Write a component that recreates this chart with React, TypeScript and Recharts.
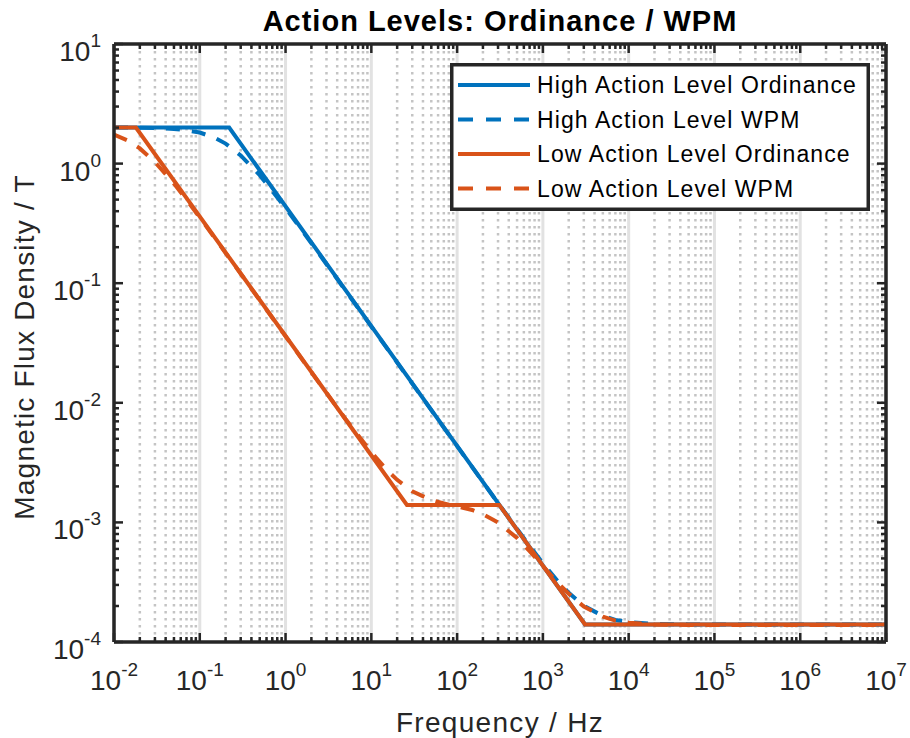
import React from "react";
import {
  LineChart,
  Line,
  XAxis,
  YAxis,
  CartesianGrid,
  Legend,
  Label,
  ReferenceLine,
} from "recharts";

// ordinance limits (piecewise, break points)
const highOrdFreq = [0.01, 0.22, 3100, 1e7];
const highOrdB = [2, 2, 1.4e-4, 1.4e-4];
const lowOrdFreq = [0.01, 0.018, 26, 310, 3100, 1e7];
const lowOrdB = [2, 2, 1.4e-3, 1.4e-3, 1.4e-4, 1.4e-4];

// weighted peak method curves
const wpmFreq = [
  0.01, 0.015, 0.02, 0.03, 0.05, 0.07, 0.1, 0.15, 0.2, 0.3, 0.5, 0.7, 1, 2, 5, 10, 15, 20, 30, 50,
  70, 100, 150, 200, 300, 500, 700, 1000, 1500, 2000, 3000, 5000, 7000, 1e4, 2e4, 5e4, 1e5, 1e7,
];
const highWpmB = [
  2.0, 2.0, 1.99, 1.98, 1.95, 1.9, 1.82, 1.64, 1.47, 1.17, 0.8, 0.59, 0.424, 0.216, 0.0867, 0.0434,
  0.0289, 0.0217, 0.01447, 0.00868, 0.0062, 0.00434, 0.0029, 0.00217, 0.00145, 0.00088, 0.000636,
  0.000456, 0.000321, 0.000258, 0.000201, 0.000165, 0.000153, 0.000147, 0.0001416, 0.0001403,
  0.00014, 0.00014,
];
const lowWpmB = [
  1.75, 1.54, 1.34, 1.03, 0.68, 0.5, 0.354, 0.238, 0.179, 0.12, 0.072, 0.0514, 0.036, 0.018,
  0.00733, 0.00386, 0.00277, 0.00227, 0.00182, 0.00154, 0.00144, 0.00136, 0.00127, 0.00117, 0.001,
  0.00074, 0.000575, 0.000431, 0.000311, 0.000253, 0.000198, 0.000163, 0.000151, 0.000145, 0.00014,
  0.000139, 0.0001385, 0.0001385,
];

const xTickValues = [1e-2, 1e-1, 1, 10, 100, 1e3, 1e4, 1e5, 1e6, 1e7];
const xTickExps = ["-2", "-1", "0", "1", "2", "3", "4", "5", "6", "7"];
const yTickValues = [1e-4, 1e-3, 1e-2, 1e-1, 1, 10];
const yTickExps = ["-4", "-3", "-2", "-1", "0", "1"];
const minorSteps = [2, 3, 4, 5, 6, 7, 8, 9];

const seriesNames = [
  "High Action Level Ordinance",
  "High Action Level WPM",
  "Low Action Level Ordinance",
  "Low Action Level WPM",
];

const BLUE = "#0072BD";
const ORANGE = "#D95319";
const AX = "#262626";
const SANS = '"Liberation Sans", Arial, Helvetica, sans-serif';
const DASH = "14 12";
const PLOT_W = 772;
const PLOT_H = 598;

const xMinor = xTickValues.slice(0, -1).flatMap((d) => minorSteps.map((s) => s * d));
const yMinor = yTickValues.slice(0, -1).flatMap((d) => minorSteps.map((s) => s * d));
const xAllTicks = [...xTickValues, ...xMinor].sort((a, b) => a - b);
const yAllTicks = [...yTickValues, ...yMinor].sort((a, b) => a - b);

const toRows = (fs: number[], bs: number[]) => fs.map((f, i) => ({ f, b: bs[i] }));

const highOrd = toRows(highOrdFreq, highOrdB);
const highWpm = toRows(wpmFreq, highWpmB);
const lowOrd = toRows(lowOrdFreq, lowOrdB);
const lowWpm = toRows(wpmFreq, lowWpmB);

const legendItems = [
  { name: seriesNames[0], color: BLUE, dash: undefined },
  { name: seriesNames[1], color: BLUE, dash: DASH },
  { name: seriesNames[2], color: ORANGE, dash: undefined },
  { name: seriesNames[3], color: ORANGE, dash: DASH },
];

const applyScale = (scale: any, v: number) =>
  typeof scale === "function" ? scale(v) : scale && scale.map ? scale.map(v) : 0;

function XTick(props: any) {
  const { x, y, payload } = props;
  const i = xTickValues.indexOf(payload.value);
  const len = i >= 0 ? 9 : 5;
  return (
    <g>
      <line x1={x} x2={x} y1={y} y2={y - len} stroke={AX} strokeWidth={2.5} />
      <line x1={x} x2={x} y1={y - PLOT_H} y2={y - PLOT_H + len} stroke={AX} strokeWidth={2.5} />
      {i >= 0 && (
        <text x={x} y={y + 48} textAnchor="middle" fill={AX} fontFamily={SANS} fontSize={28}>
          10
          <tspan dy={-14} fontSize={19}>
            {xTickExps[i]}
          </tspan>
        </text>
      )}
    </g>
  );
}

function YTick(props: any) {
  const { x, y, payload } = props;
  const i = yTickValues.indexOf(payload.value);
  const len = i >= 0 ? 9 : 5;
  return (
    <g>
      <line x1={x} x2={x + len} y1={y} y2={y} stroke={AX} strokeWidth={2.5} />
      <line x1={x + PLOT_W} x2={x + PLOT_W - len} y1={y} y2={y} stroke={AX} strokeWidth={2.5} />
      {i >= 0 && (
        <text x={x - 13} y={y + 17} textAnchor="end" fill={AX} fontFamily={SANS} fontSize={28}>
          10
          <tspan dy={-14} fontSize={19}>
            {yTickExps[i]}
          </tspan>
        </text>
      )}
    </g>
  );
}

function LegendBox() {
  return (
    <svg width={420} height={148} style={{ display: "block" }}>
      <rect x={1.75} y={1.75} width={416.5} height={144.5} fill="#fff" stroke={AX} strokeWidth={3.5} />
      {legendItems.map((it, i) => {
        const cy = 22 + i * 34.5;
        return (
          <g key={it.name}>
            <line
              x1={8}
              x2={80}
              y1={cy}
              y2={cy}
              stroke={it.color}
              strokeWidth={4}
              strokeDasharray={it.dash ? "15 13" : undefined}
            />
            <text x={87} y={cy + 8} fontFamily={SANS} fontSize={23} letterSpacing={1.1} fill="#000">
              {it.name}
            </text>
          </g>
        );
      })}
    </svg>
  );
}

export default function App() {
  const axisLine = { stroke: AX, strokeWidth: 3.5 };
  return (
    <div style={{ position: "absolute", left: 0, top: 0, background: "#fff" }}>
      <LineChart width={910} height={738} margin={{ top: 44, right: 24, bottom: 0, left: 0 }}>
        <CartesianGrid
          horizontal={false}
          stroke="#c4c4c4"
          strokeWidth={2.5}
          strokeDasharray="2.5 4.5"
          verticalCoordinatesGenerator={(p: any) => xMinor.map((v) => applyScale(p.xAxis?.scale, v))}
        />
        <CartesianGrid
          horizontal={false}
          stroke="#e2e2e2"
          strokeWidth={3}
          verticalCoordinatesGenerator={(p: any) =>
            xTickValues.map((v) => applyScale(p.xAxis?.scale, v))
          }
        />

        <XAxis
          type="number"
          dataKey="f"
          scale="log"
          domain={[0.01, 1e7]}
          allowDataOverflow
          ticks={xAllTicks}
          interval={0}
          height={96}
          tick={<XTick />}
          tickSize={0}
          tickMargin={0}
          tickLine={false}
          axisLine={axisLine}
        >
          <Label
            content={(p: any) => {
              const vb = p.viewBox || {};
              return (
                <text
                  x={vb.x + vb.width / 2}
                  y={vb.y + 90}
                  textAnchor="middle"
                  fontFamily={SANS}
                  fontSize={28}
                  letterSpacing={1.3}
                  fill={AX}
                >
                  Frequency / Hz
                </text>
              );
            }}
          />
          <Label
            content={(p: any) => {
              const vb = p.viewBox || {};
              return (
                <text
                  x={vb.x + vb.width / 2}
                  y={31}
                  textAnchor="middle"
                  fontFamily={SANS}
                  fontWeight="bold"
                  fontSize={29}
                  letterSpacing={1}
                  fill="#000"
                >
                  Action Levels: Ordinance / WPM
                </text>
              );
            }}
          />
        </XAxis>
        <YAxis
          type="number"
          scale="log"
          domain={[1e-4, 10]}
          allowDataOverflow
          ticks={yAllTicks}
          interval={0}
          width={114}
          tick={<YTick />}
          tickSize={0}
          tickMargin={0}
          tickLine={false}
          axisLine={axisLine}
        >
          <Label
            content={(p: any) => {
              const vb = p.viewBox || {};
              const cx = 34;
              const cy = vb.y + vb.height / 2 + 4;
              return (
                <text
                  x={cx}
                  y={cy}
                  transform={`rotate(-90 ${cx} ${cy})`}
                  textAnchor="middle"
                  fontFamily={SANS}
                  fontSize={28}
                  letterSpacing={1.2}
                  fill={AX}
                >
                  Magnetic Flux Density / T
                </text>
              );
            }}
          />
        </YAxis>

        <Line
          data={highOrd}
          dataKey="b"
          name={seriesNames[0]}
          type="linear"
          stroke={BLUE}
          strokeWidth={4}
          dot={false}
          isAnimationActive={false}
        />
        <Line
          data={highWpm}
          dataKey="b"
          name={seriesNames[1]}
          type="linear"
          stroke={BLUE}
          strokeWidth={4}
          strokeDasharray={DASH}
          dot={false}
          isAnimationActive={false}
        />
        <Line
          data={lowOrd}
          dataKey="b"
          name={seriesNames[2]}
          type="linear"
          stroke={ORANGE}
          strokeWidth={4}
          dot={false}
          isAnimationActive={false}
        />
        <Line
          data={lowWpm}
          dataKey="b"
          name={seriesNames[3]}
          type="linear"
          stroke={ORANGE}
          strokeWidth={4}
          strokeDasharray={DASH}
          dot={false}
          isAnimationActive={false}
        />

        {/* top and right edges of the axes box */}
        <ReferenceLine y={10} stroke={AX} strokeWidth={3.5} />
        <ReferenceLine x={1e7} stroke={AX} strokeWidth={3.5} />

        <Legend
          layout="vertical"
          verticalAlign="middle"
          align="center"
          content={() => <LegendBox />}
          wrapperStyle={{ position: "absolute", left: 450, top: 63, width: 420, height: 148 }}
        />
      </LineChart>
    </div>
  );
}
